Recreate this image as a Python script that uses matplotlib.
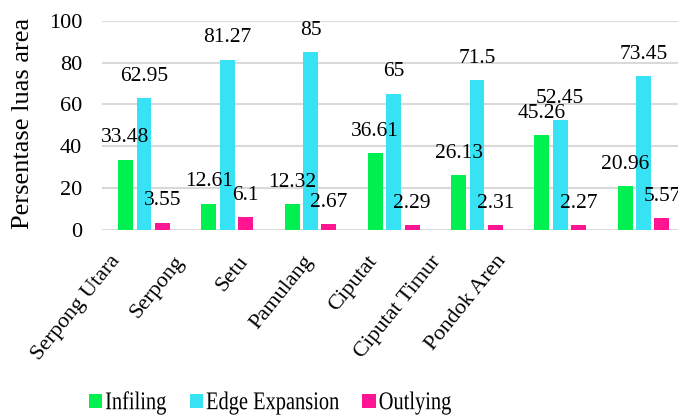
import matplotlib
matplotlib.use("Agg")
import matplotlib.pyplot as plt
import numpy as np
from matplotlib.patheffects import AbstractPathEffect
from matplotlib.transforms import Affine2D, blended_transform_factory

plt.rcParams['font.family'] = ['Liberation Serif', 'DejaVu Serif']

categories = ["Serpong Utara", "Serpong", "Setu", "Pamulang", "Ciputat",
              "Ciputat Timur", "Pondok Aren"]
infiling = [33.48, 12.61, 12.32, 36.61, 26.13, 45.26, 20.96]
edge_expansion = [62.95, 81.27, 85, 65, 71.5, 52.45, 73.45]
outlying = [3.55, 6.1, 2.67, 2.29, 2.31, 2.27, 5.57]
y_ticks = [0, 20, 40, 60, 80, 100]

series = [("Infiling", infiling, "#00F050"),
          ("Edge Expansion", edge_expansion, "#36E2F4"),
          ("Outlying", outlying, "#FF1493")]


class VStretch(AbstractPathEffect):
    """Draw text taller than its font by scaling the glyph outlines vertically."""

    def __init__(self, sy=1.25):
        super().__init__()
        self.sy = sy

    def draw_path(self, renderer, gc, tpath, affine, rgbFace=None):
        path = affine.transform_path(tpath)
        ext = path.get_extents()
        y0 = 0.5 * (ext.y0 + ext.y1)
        stretch = Affine2D().translate(0, -y0).scale(1, self.sy).translate(0, y0)
        renderer.draw_path(gc, stretch.transform_path(path), Affine2D(), rgbFace)


fig = plt.figure(figsize=(6.78, 4.17), dpi=100)
ax = fig.add_axes([0.151, 0.4484, 0.8595, 0.502])

x = np.arange(len(categories))
width = 0.18
step = 0.222

for k, (name, vals, color) in enumerate(series):
    pos = x + (k - 1) * step
    bars = ax.bar(pos, vals, width, color=color, label=name, zorder=3)
    for b, v in zip(bars, vals):
        ax.annotate(f"{v:g}", (b.get_x() + b.get_width() / 2, v),
                    xytext=(0, 22), textcoords="offset pixels",
                    ha="center", va="center", fontsize=15.5, zorder=4)

ax.set_xlim(-0.5, len(categories) - 0.5)
ax.set_ylim(0, 100)
ax.set_yticks(y_ticks)
ax.tick_params(axis="y", length=0, pad=14.5, labelsize=16)
ax.set_xticks([])
ax.yaxis.grid(True, color="#D9D9D9", linewidth=1.5, zorder=0)
for s in ax.spines.values():
    s.set_visible(False)

ax.set_ylabel("Persentase luas area", fontsize=19)
ax.yaxis.set_label_coords(-0.136, 0.507)
ax.yaxis.label.set_va("center")

# category names, rotated below the axis
trans = blended_transform_factory(ax.transAxes, ax.transAxes)
for i, name in enumerate(categories):
    ax.text(0.012 + i * 0.1103, -0.105, name, transform=trans,
            rotation=51, rotation_mode="anchor", ha="right", va="top",
            fontsize=16)

handles, labels = ax.get_legend_handles_labels()
leg = fig.legend(handles, labels, loc="center",
                 bbox_to_anchor=(270 / 678, 14 / 417),
                 ncol=3, frameon=False, fontsize=14.7, handlelength=0.65,
                 handleheight=0.65, handletextpad=0.15, columnspacing=1.15,
                 borderpad=0)
for t in leg.get_texts():
    t.set_path_effects([VStretch(1.25)])

fig.savefig("out.png", dpi=100)
